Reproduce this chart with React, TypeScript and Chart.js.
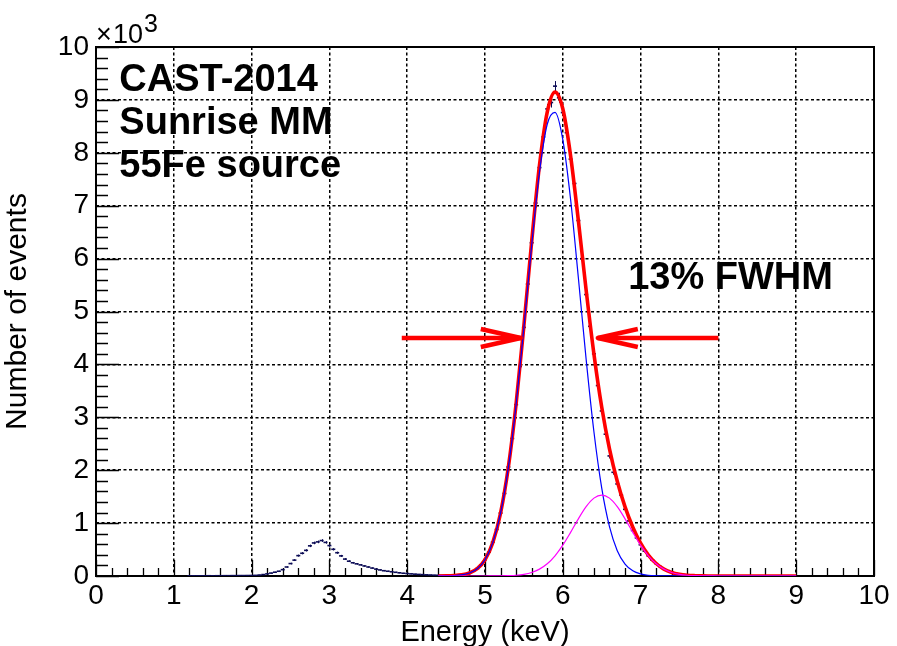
import { useEffect, useRef } from 'react';
import { Chart, registerables } from 'chart.js';

Chart.register(...registerables);

// Measured spectrum: counts per 0.05 keV bin, in units of 10^3 events.
const BIN_START = 1.2; // keV, centre of the first bin
const BIN_WIDTH = 0.05; // keV
const COUNTS = [
  // 1.20 - 1.95
  0.004, 0.004, 0.003, 0.004, 0.004, 0.005, 0.004, 0.005, 0.005, 0.006, 0.006, 0.007, 0.007, 0.008, 0.008, 0.009,
  // 2.00 - 2.95 (Ar escape peak)
  0.010, 0.012, 0.018, 0.027, 0.040, 0.055, 0.072, 0.090, 0.120, 0.170, 0.235, 0.300, 0.385, 0.430, 0.485, 0.570, 0.625, 0.645, 0.670, 0.635,
  // 3.00 - 3.95
  0.575, 0.505, 0.440, 0.380, 0.320, 0.280, 0.250, 0.230, 0.210, 0.190, 0.170, 0.150, 0.130, 0.115, 0.100, 0.090, 0.080, 0.070, 0.060, 0.052,
  // 4.00 - 4.95
  0.046, 0.040, 0.035, 0.030, 0.026, 0.022, 0.019, 0.016, 0.014, 0.012, 0.011, 0.011, 0.013, 0.018, 0.026, 0.038, 0.058, 0.090, 0.140, 0.210,
  // 5.00 - 5.95
  0.310, 0.450, 0.640, 0.880, 1.190, 1.560, 2.060, 2.600, 3.240, 3.960, 4.700, 5.520, 6.300, 7.050, 7.720, 8.300, 8.830, 8.950, 9.260, 9.040,
  // 6.00 - 6.95
  8.760, 8.380, 7.880, 7.420, 6.720, 6.000, 5.320, 4.720, 4.200, 3.600, 3.120, 2.680, 2.270, 1.960, 1.740, 1.530, 1.260, 1.040, 0.860, 0.720,
  // 7.00 - 7.70
  0.590, 0.470, 0.380, 0.300, 0.235, 0.180, 0.135, 0.100, 0.072, 0.052, 0.037, 0.026, 0.018, 0.012, 0.008,
];

// Fit curves sampled every 0.1 keV from 4.4 to 9.0 keV (10^3 events).
const FIT_START = 4.4;
const FIT_STEP = 0.1;
const FIT_TOTAL = [
  0.001, 0.002, 0.007, 0.021, 0.057, 0.138, 0.308, 0.632, 1.190, 2.055,
  3.255, 4.734, 6.322, 7.762, 8.771, 9.147, 8.833, 7.946, 6.719, 5.405,
  4.198, 3.195, 2.405, 1.790, 1.307, 0.923, 0.622, 0.396, 0.236, 0.131,
  0.067, 0.032, 0.014, 0.006, 0.002, 0.001, 0, 0, 0, 0,
  0, 0, 0, 0, 0, 0, 0,
];
const FIT_K_ALPHA = [
  0.001, 0.002, 0.007, 0.021, 0.057, 0.138, 0.308, 0.631, 1.188, 2.049,
  3.241, 4.702, 6.255, 7.632, 8.540, 8.765, 8.250, 7.121, 5.638, 4.094,
  2.726, 1.665, 0.933, 0.479, 0.226, 0.098, 0.039, 0.014, 0.005, 0.002,
  0.001, 0, 0, 0, 0, 0, 0, 0, 0, 0,
  0, 0, 0, 0, 0, 0, 0,
];
const FIT_K_BETA = [
  0, 0, 0, 0, 0, 0, 0, 0.001, 0.002, 0.006,
  0.014, 0.032, 0.067, 0.130, 0.231, 0.382, 0.583, 0.825, 1.081, 1.311,
  1.472, 1.530, 1.472, 1.311, 1.081, 0.825, 0.583, 0.382, 0.231, 0.130,
  0.067, 0.032, 0.014, 0.006, 0.002, 0.001, 0, 0, 0, 0,
  0, 0, 0, 0, 0, 0, 0,
];

const X_TICK_LABELS = ['0', '1', '2', '3', '4', '5', '6', '7', '8', '9', '10'];
const Y_TICK_LABELS = ['0', '1', '2', '3', '4', '5', '6', '7', '8', '9', '10'];

const INFO_LINES = ['CAST-2014', 'Sunrise MM', '55Fe source'];
const FWHM_TEXT = '13% FWHM';
const HALF_MAX = 4.5; // 10^3 events
const FWHM_LOW = 5.46; // keV
const FWHM_HIGH = 6.45; // keV
const ARROW_LEFT_FROM = 3.93;
const ARROW_RIGHT_FROM = 8.0;

const FONT = "'Liberation Sans', Arial, Helvetica, sans-serif";
const DATA_COLOR = '#0b0b55';

const spectrumPoints = COUNTS.map((v, i) => ({ x: BIN_START + i * BIN_WIDTH, y: v }));
const curvePoints = (vals: number[]) => vals.map((v, i) => ({ x: FIT_START + i * FIT_STEP, y: v }));

function drawArrow(ctx: CanvasRenderingContext2D, from: number, tip: number, y: number) {
  const dir = Math.sign(tip - from);
  ctx.strokeStyle = '#ff0000';
  ctx.lineWidth = 4.5;
  ctx.lineJoin = 'round';
  ctx.lineCap = 'butt';
  ctx.beginPath();
  ctx.moveTo(from, y);
  ctx.lineTo(tip, y);
  ctx.stroke();
  ctx.beginPath();
  ctx.moveTo(tip - dir * 40, y - 9);
  ctx.lineTo(tip, y);
  ctx.lineTo(tip - dir * 40, y + 9);
  ctx.stroke();
}

// ROOT-style frame with inward major/minor ticks, drawn under the datasets.
const framePlugin = {
  id: 'frame',
  beforeDatasetsDraw(chart: any) {
    const { ctx, chartArea: a, scales } = chart;
    const xs = scales.x;
    const ys = scales.y;
    ctx.save();
    ctx.strokeStyle = '#000';
    ctx.lineWidth = 1.3;
    ctx.beginPath();
    for (let k = 0; k <= 50; k++) {
      const v = k * 0.2;
      const major = k % 5 === 0;
      const px = Math.round(xs.getPixelForValue(v)) + 0.5;
      ctx.moveTo(px, a.bottom);
      ctx.lineTo(px, a.bottom - (major ? 16 : 8));
      const py = Math.round(ys.getPixelForValue(v)) + 0.5;
      ctx.moveTo(a.left, py);
      ctx.lineTo(a.left + (major ? 23 : 12), py);
    }
    ctx.stroke();
    ctx.lineWidth = 2;
    ctx.strokeRect(a.left, a.top, a.right - a.left, a.bottom - a.top);
    ctx.restore();
  },
  afterDatasetDraw(chart: any, args: any) {
    if (args.index !== 0) return;
    const { ctx, scales } = chart;
    const ys = scales.y;
    ctx.save();
    ctx.strokeStyle = DATA_COLOR;
    ctx.lineWidth = 1;
    ctx.beginPath();
    args.meta.data.forEach((pt: any, i: number) => {
      const v = COUNTS[i];
      const err = Math.sqrt(v * 1000) / 1000;
      const x = Math.round(pt.x) + 0.5;
      ctx.moveTo(x, ys.getPixelForValue(v + err));
      ctx.lineTo(x, ys.getPixelForValue(Math.max(v - err, 0)));
    });
    ctx.stroke();
    ctx.restore();
  },
};

// Text labels, FWHM arrows and the axis multiplier.
const annotationPlugin = {
  id: 'annotations',
  afterDatasetsDraw(chart: any) {
    const { ctx, chartArea: a, scales } = chart;
    const xs = scales.x;
    const ys = scales.y;
    ctx.save();
    const ay = ys.getPixelForValue(HALF_MAX);
    drawArrow(ctx, xs.getPixelForValue(ARROW_LEFT_FROM), xs.getPixelForValue(FWHM_LOW), ay);
    drawArrow(ctx, xs.getPixelForValue(ARROW_RIGHT_FROM), xs.getPixelForValue(FWHM_HIGH), ay);

    ctx.fillStyle = '#000';
    ctx.textAlign = 'left';
    ctx.textBaseline = 'alphabetic';
    ctx.font = `bold 38px ${FONT}`;
    const infoBaselines = [9.17, 8.36, 7.54];
    INFO_LINES.forEach((t, i) => {
      ctx.fillText(t, xs.getPixelForValue(0.3), ys.getPixelForValue(infoBaselines[i]));
    });
    ctx.fillText(FWHM_TEXT, xs.getPixelForValue(6.84), ys.getPixelForValue(5.43));

    // x10^3 multiplier above the y axis
    ctx.font = `27px ${FONT}`;
    ctx.fillText('\u00d7', a.left, a.top - 4);
    ctx.fillText('10', a.left + 17, a.top - 4);
    ctx.font = `25px ${FONT}`;
    ctx.fillText('3', a.left + 48, a.top - 15);
    ctx.restore();
  },
};

export default function App() {
  const canvasRef = useRef<HTMLCanvasElement | null>(null);

  useEffect(() => {
    document.body.style.margin = '0';
    const canvas = canvasRef.current;
    if (!canvas) return;
    Chart.defaults.font.family = FONT;
    Chart.defaults.color = '#000';

    const chart = new Chart(canvas, {
      type: 'line',
      data: {
        datasets: [
          {
            label: 'data',
            data: spectrumPoints,
            showLine: false,
            pointStyle: 'line',
            pointRadius: 2,
            pointBorderWidth: 1.6,
            pointBorderColor: DATA_COLOR,
            pointBackgroundColor: DATA_COLOR,
            order: 4,
          },
          {
            label: 'total fit',
            data: curvePoints(FIT_TOTAL),
            borderColor: '#ff0000',
            borderWidth: 3.6,
            pointRadius: 0,
            cubicInterpolationMode: 'monotone',
            order: 3,
          },
          {
            label: 'K alpha',
            data: curvePoints(FIT_K_ALPHA),
            borderColor: '#0000ff',
            borderWidth: 1.2,
            pointRadius: 0,
            cubicInterpolationMode: 'monotone',
            order: 2,
          },
          {
            label: 'K beta',
            data: curvePoints(FIT_K_BETA),
            borderColor: '#ff00ff',
            borderWidth: 1.2,
            pointRadius: 0,
            cubicInterpolationMode: 'monotone',
            order: 1,
          },
        ],
      },
      options: {
        responsive: false,
        animation: false,
        devicePixelRatio: 1,
        events: [],
        layout: { padding: { top: 47, right: 23, left: 0, bottom: 0 } },
        plugins: { legend: { display: false }, tooltip: { enabled: false } },
        scales: {
          x: {
            type: 'linear',
            min: 0,
            max: 10,
            ticks: {
              stepSize: 1,
              padding: 3,
              font: { size: 28 },
              color: '#000',
              maxRotation: 0,
              autoSkip: false,
              callback: (_v: any, i: number) => X_TICK_LABELS[i],
            },
            grid: { color: '#000', lineWidth: 1.5, drawTicks: false },
            border: { display: false, dash: [3, 2.5] },
            title: {
              display: true,
              text: 'Energy (keV)',
              font: { size: 29 },
              color: '#000',
              padding: { top: 0, bottom: -4 },
            },
            afterFit: (s: any) => {
              s.height = 70;
            },
          },
          y: {
            type: 'linear',
            min: 0,
            max: 10,
            ticks: {
              stepSize: 1,
              padding: 7,
              font: { size: 28 },
              color: '#000',
              autoSkip: false,
              callback: (_v: any, i: number) => Y_TICK_LABELS[i],
            },
            grid: { color: '#000', lineWidth: 1.5, drawTicks: false },
            border: { display: false, dash: [3, 2.5] },
            title: {
              display: true,
              text: 'Number of events',
              font: { size: 30 },
              color: '#000',
              padding: 0,
            },
            afterFit: (s: any) => {
              s.width = 96;
            },
          },
        },
      },
      plugins: [framePlugin, annotationPlugin],
    });

    return () => chart.destroy();
  }, []);

  return (
    <div style={{ width: 897, height: 646 }}>
      <canvas ref={canvasRef} width={897} height={646} style={{ display: 'block' }} />
    </div>
  );
}
